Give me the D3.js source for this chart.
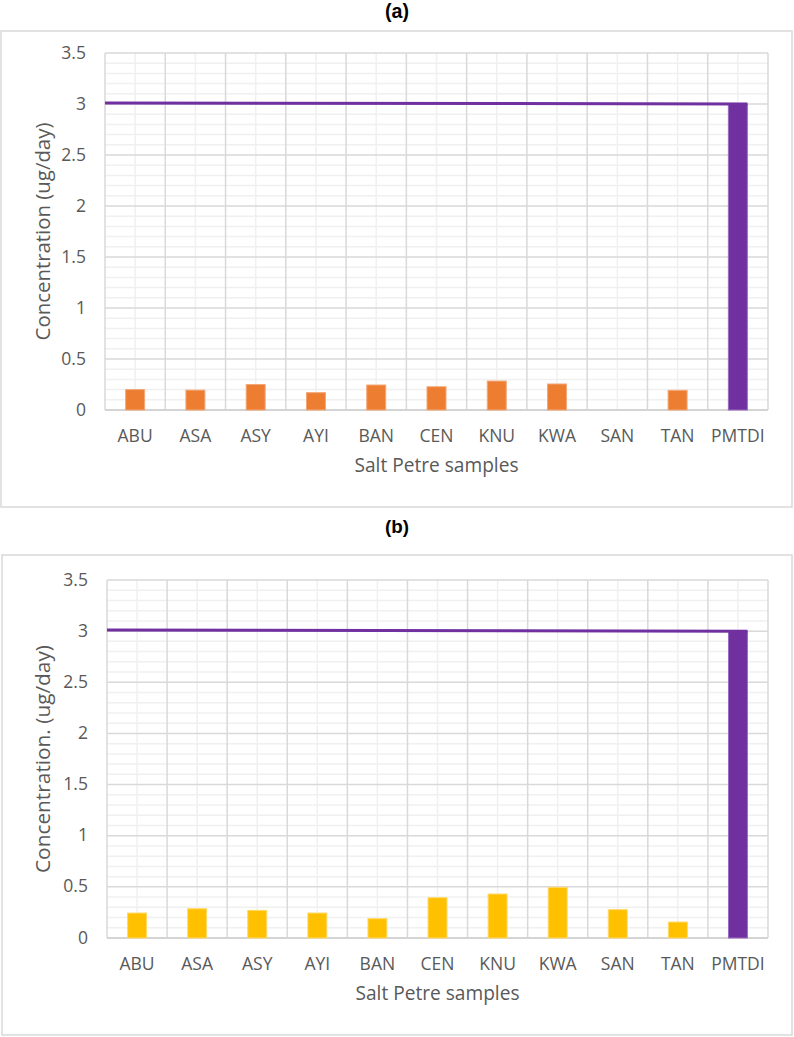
<!DOCTYPE html>
<html>
<head>
<meta charset="utf-8">
<script src="https://cdn.jsdelivr.net/npm/d3@7"></script>
<style>
  html, body { margin: 0; padding: 0; background: #fff; }
  svg { display: block; }
</style>
</head>
<body>
<svg id="chart" width="794" height="1037"></svg>
<script>
const categories = ["ABU", "ASA", "ASY", "AYI", "BAN", "CEN", "KNU", "KWA", "SAN", "TAN", "PMTDI"];
const valuesA = [0.20, 0.195, 0.25, 0.17, 0.245, 0.228, 0.284, 0.255, 0, 0.193];
const valuesB = [0.244, 0.286, 0.27, 0.244, 0.189, 0.394, 0.43, 0.495, 0.277, 0.156];
const pmtdi = 3.0;
const limitLine = [3.01, 3.0];
const yTicks = [0, 0.5, 1, 1.5, 2, 2.5, 3, 3.5];
const yTickLabels = ["0", "0.5", "1", "1.5", "2", "2.5", "3", "3.5"];

const svg = d3.select("#chart");
const FONT = "'Open Sans', Lato, sans-serif";
const TEXT = "#595959";

// scale a text's font size so its rendered width equals target
function fitWidth(sel, target) {
  const n = sel.node();
  const fs = parseFloat(sel.attr("font-size"));
  const w = n.getComputedTextLength();
  if (w > 0) sel.attr("font-size", (fs * target / w).toFixed(2));
}

function drawPanel(o) {
  const t = svg.append("text").attr("x", 397).attr("y", o.titleY)
    .attr("text-anchor", "middle").attr("font-family", "'Liberation Sans', Arial, sans-serif")
    .attr("font-weight", "bold").attr("font-size", 18).attr("fill", "#000").text(o.title);
  fitWidth(t, 24);
  svg.append("rect").attr("x", o.box[0]).attr("y", o.box[1]).attr("width", o.box[2]).attr("height", o.box[3])
    .attr("fill", "#fff").attr("stroke", "#d9d9d9").attr("stroke-width", 1.5);

  const x = d3.scaleBand().domain(categories).range([o.left, o.right]).padding(0);
  const y = d3.scaleLinear().domain([0, 3.5]).range([o.bottom, o.top]);
  const g = svg.append("g");

  const minor = d3.range(1, 35).filter(i => i % 5 !== 0).map(i => i / 10);
  g.selectAll(".hmin").data(minor).join("line")
    .attr("x1", o.left).attr("x2", o.right)
    .attr("y1", d => y(d)).attr("y2", d => y(d))
    .attr("stroke", "#f0f0f0").attr("stroke-width", 1.5);
  g.selectAll(".vmin").data(categories).join("line")
    .attr("x1", d => x(d) + x.bandwidth() / 2).attr("x2", d => x(d) + x.bandwidth() / 2)
    .attr("y1", o.top).attr("y2", o.bottom)
    .attr("stroke", "#f0f0f0").attr("stroke-width", 1.5);
  g.selectAll(".hmaj").data(yTicks.slice(1)).join("line")
    .attr("x1", o.left).attr("x2", o.right)
    .attr("y1", d => y(d)).attr("y2", d => y(d))
    .attr("stroke", "#d9d9d9").attr("stroke-width", 1.5);
  g.selectAll(".vmaj").data(categories.concat(["__end"])).join("line")
    .attr("x1", (d, i) => o.left + i * x.bandwidth()).attr("x2", (d, i) => o.left + i * x.bandwidth())
    .attr("y1", o.top).attr("y2", o.bottom)
    .attr("stroke", "#d9d9d9").attr("stroke-width", 1.5);
  g.append("line").attr("x1", o.left).attr("x2", o.right)
    .attr("y1", y(0)).attr("y2", y(0)).attr("stroke", "#d4d4d4").attr("stroke-width", 2);

  const yl = g.selectAll(".yl").data(yTicks).join("text")
    .attr("x", o.left - 19).attr("y", d => y(d) + 5.5)
    .attr("text-anchor", "end").attr("font-family", FONT).attr("font-size", 15)
    .attr("fill", TEXT).text((d, i) => yTickLabels[i]);
  const xl = g.selectAll(".xl").data(categories).join("text")
    .attr("x", d => x(d) + x.bandwidth() / 2).attr("y", o.bottom + 32)
    .attr("text-anchor", "middle").attr("font-family", FONT).attr("font-size", 15)
    .attr("fill", TEXT).text(d => d);
  // match tick font size to reference width of "KWA" (~39px)
  const kwa = xl.filter(d => d === "KWA");
  const fsTick = 15 * 38 / kwa.node().getComputedTextLength();
  xl.attr("font-size", fsTick.toFixed(2));
  yl.attr("font-size", fsTick.toFixed(2));

  const yt = g.append("text").attr("transform", `translate(${o.yTitleX},${(o.top + o.bottom) / 2}) rotate(-90)`)
    .attr("text-anchor", "middle").attr("font-family", FONT).attr("font-size", 17)
    .attr("fill", TEXT).text(o.yTitle);
  fitWidth(yt, o.yTitleLen);
  const xt = g.append("text").attr("x", (o.left + o.right) / 2).attr("y", o.bottom + 62)
    .attr("text-anchor", "middle").attr("font-family", FONT).attr("font-size", 17)
    .attr("fill", TEXT).text("Salt Petre samples");
  fitWidth(xt, 164);

  const bw = x.bandwidth() * 0.315;
  const data = o.values.map((v, i) => ({ c: categories[i], v }));
  g.selectAll(".bar").data(data.filter(d => d.v > 0)).join("rect")
    .attr("x", d => x(d.c) + (x.bandwidth() - bw) / 2)
    .attr("y", d => y(d.v)).attr("width", bw).attr("height", d => y(0) - y(d.v))
    .attr("fill", o.color).attr("stroke", o.stroke).attr("stroke-width", 1);
  const px = x("PMTDI") + (x.bandwidth() - bw) / 2;
  g.append("rect").attr("x", px).attr("y", y(pmtdi)).attr("width", bw)
    .attr("height", y(0) - y(pmtdi)).attr("fill", "#7030A0").attr("stroke", "#9a6bc0").attr("stroke-width", 1);
  g.append("line").attr("x1", o.left).attr("x2", px + bw)
    .attr("y1", y(limitLine[0])).attr("y2", y(limitLine[1]))
    .attr("stroke", "#7030A0").attr("stroke-width", 3);
}

drawPanel({
  title: "(a)", titleY: 18, box: [1, 31, 791, 476],
  top: 53, bottom: 410, left: 105, right: 768, yTitleX: 50, yTitleLen: 218,
  yTitle: "Concentration (ug/day)", values: valuesA,
  color: "#ED7D31", stroke: "#f4a777"
});
drawPanel({
  title: "(b)", titleY: 533, box: [2, 555, 790, 480],
  top: 580, bottom: 938, left: 107, right: 768, yTitleX: 50, yTitleLen: 228,
  yTitle: "Concentration. (ug/day)", values: valuesB,
  color: "#FFC000", stroke: "#ffd966"
});
</script>
</body>
</html>
